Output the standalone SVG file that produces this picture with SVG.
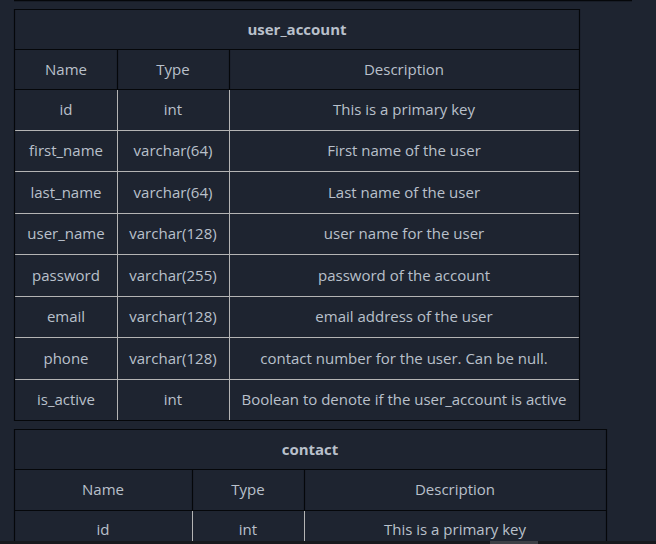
<svg xmlns="http://www.w3.org/2000/svg" width="656" height="544" viewBox="0 0 656 544">
<style>
.bg{fill:#1e2430}
.t{font-family:"Open Sans","Noto Sans","DejaVu Sans",sans-serif;font-size:15px;fill:#b9c0cb;text-anchor:middle}
.b{font-weight:bold}
.dk{stroke:#05070a;stroke-width:1.2;fill:none}
.lt{stroke:#b4b4b4;stroke-width:1;fill:none}
</style>
<rect class="bg" x="0" y="0" width="656" height="544"/>
<line x1="14" y1="0.5" x2="632" y2="0.5" stroke="#05070a" stroke-width="1.5"/>
<g id="user_account">
<path class="lt" d="M14 130.5H579M14 171.5H579M14 213.5H579M14 254.5H579M14 296.5H579M14 337.5H579M14 379.5H579M117.5 89V420M229.5 89V420"/>
<path class="dk" d="M14.5 9.5H579.5V420.5H14.5Z M14.5 49.5H579.5M14.5 89.5H579.5M117.5 49.5V89.5M229.5 49.5V89.5"/>
<text class="t b" x="297" y="35">user_account</text>
<text class="t" x="66" y="75">Name</text>
<text class="t" x="173" y="75">Type</text>
<text class="t" x="404" y="75">Description</text>
<text class="t" x="66" y="115">id</text>
<text class="t" x="173" y="115">int</text>
<text class="t" x="404" y="115">This is a primary key</text>
<text class="t" x="66" y="156">first_name</text>
<text class="t" x="173" y="156">varchar(64)</text>
<text class="t" x="404" y="156">First name of the user</text>
<text class="t" x="66" y="198">last_name</text>
<text class="t" x="173" y="198">varchar(64)</text>
<text class="t" x="404" y="198">Last name of the user</text>
<text class="t" x="66" y="239">user_name</text>
<text class="t" x="173" y="239">varchar(128)</text>
<text class="t" x="404" y="239">user name for the user</text>
<text class="t" x="66" y="281">password</text>
<text class="t" x="173" y="281">varchar(255)</text>
<text class="t" x="404" y="281">password of the account</text>
<text class="t" x="66" y="322">email</text>
<text class="t" x="173" y="322">varchar(128)</text>
<text class="t" x="404" y="322">email address of the user</text>
<text class="t" x="66" y="364">phone</text>
<text class="t" x="173" y="364">varchar(128)</text>
<text class="t" x="404" y="364">contact number for the user. Can be null.</text>
<text class="t" x="66" y="405">is_active</text>
<text class="t" x="173" y="405">int</text>
<text class="t" x="404" y="405">Boolean to denote if the user_account is active</text>
</g>
<g id="contact">
<path class="lt" d="M192.5 510V544M304.5 510V544"/>
<path class="dk" d="M14.5 544V429.5H606.5V544 M14.5 469.5H606.5M14.5 510.5H606.5M192.5 469.5V510.5M304.5 469.5V510.5"/>
<text class="t b" x="310" y="455">contact</text>
<text class="t" x="103" y="495">Name</text>
<text class="t" x="248" y="495">Type</text>
<text class="t" x="455" y="495">Description</text>
<text class="t" x="103" y="535">id</text>
<text class="t" x="248" y="535">int</text>
<text class="t" x="455" y="535">This is a primary key</text>
</g>
<rect x="0" y="541" width="656" height="3" fill="#17191d"/>
<rect x="490" y="541" width="48" height="3" fill="#3d4046"/>
</svg>
